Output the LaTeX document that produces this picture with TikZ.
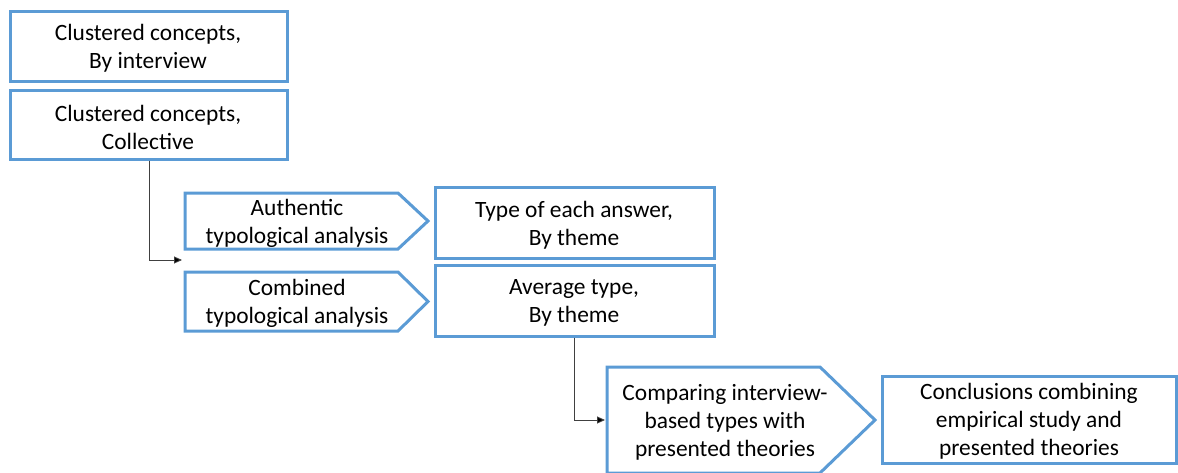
\documentclass[tikz,border=0pt]{standalone}
\usepackage{fontspec}
\setmainfont{Carlito}
\usetikzlibrary{arrows.meta}
\definecolor{boxblue}{HTML}{5B9BD5}
\tikzset{
  frame/.style={draw=boxblue, line width=3pt, line join=miter},
  label/.style={align=center, inner sep=0pt, font=\fontsize{23.4pt}{28pt}\selectfont},
  link/.style={draw=black!75, line width=0.9pt, -{Triangle[length=8pt,width=7pt,fill=black]}}
}
\begin{document}
\begin{tikzpicture}[x=1pt,y=-1pt]
\useasboundingbox (0,0) rectangle (1178,472);

% rectangular boxes
\draw[frame] (10,11) rectangle (287,81);
\node[label] (byint) at (148,48) {Clustered concepts,\\By interview};

\draw[frame] (10,90) rectangle (287,159);
\node[label] (coll) at (148,127) {Clustered concepts,\\Collective};
\coordinate (collS) at (149,160.5);

\draw[frame] (435,187) rectangle (714,258);
\node[label] (each) at (574,225) {Type of each answer,\\By theme};

\draw[frame] (435,265) rectangle (714,336);
\node[label] (avg) at (574,303) {Average type,\\By theme};
\coordinate (avgS) at (574,337.5);

\draw[frame] (882,376) rectangle (1176,463);
\node[label] (concl) at (1029,421) {Conclusions combining\\empirical study and\\presented theories};

% pentagon arrows
\draw[frame] (185,193) -- (398,193) -- (428,221) -- (398,249) -- (185,249) -- cycle;
\node[label] (auth) at (297,223) {Authentic\\typological analysis};

\draw[frame] (185,272) -- (398,272) -- (428,301.5) -- (398,331) -- (185,331) -- cycle;
\node[label] (comb) at (297,303) {Combined\\typological analysis};

\draw[frame] (607,367) -- (820,367) -- (875,420) -- (820,473) -- (607,473) -- cycle;
\node[label] (comp) at (725,422) {Comparing interview-\\based types with\\presented theories};

% connector targets
\coordinate (gap) at (182,260);
\coordinate (compW) at (605,420);

% connectors
\draw[link] (collS) |- (gap);
\draw[link] (avgS) |- (compW);
\end{tikzpicture}
\end{document}
